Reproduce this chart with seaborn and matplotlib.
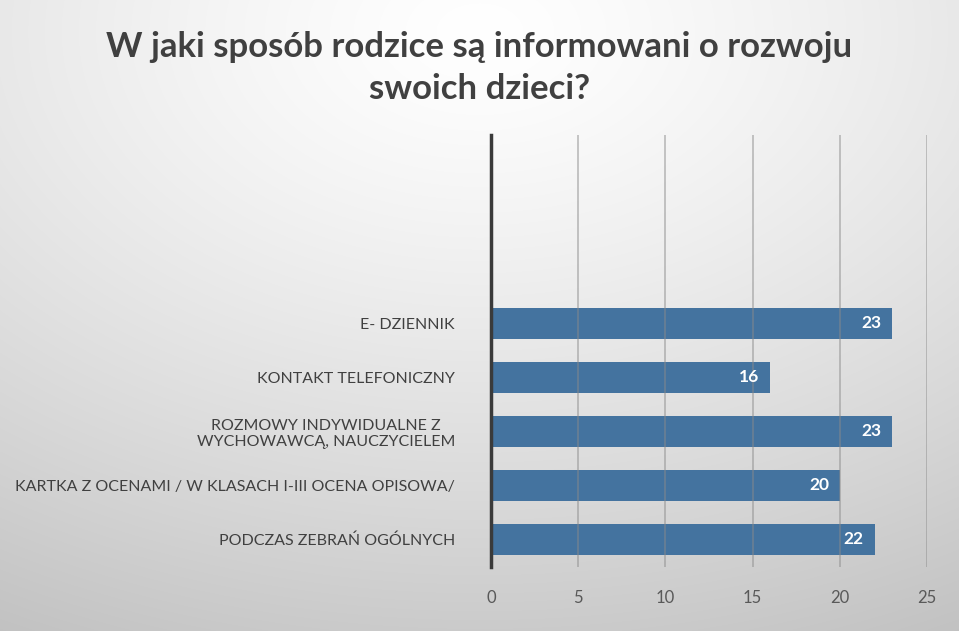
import numpy as np
import pandas as pd
import matplotlib
matplotlib.use("Agg")
import matplotlib.pyplot as plt
import seaborn as sns

title = "W jaki sposób rodzice są informowani o rozwoju\nswoich dzieci?"
categories = [
    "E- DZIENNIK",
    "KONTAKT TELEFONICZNY",
    "ROZMOWY INDYWIDUALNE Z\nWYCHOWAWCĄ, NAUCZYCIELEM",
    "KARTKA Z OCENAMI / W KLASACH I-III OCENA OPISOWA/",
    "PODCZAS ZEBRAŃ OGÓLNYCH",
]
values = [23, 16, 23, 20, 22]
empty_slots = ["", " ", "  "]
xticks = [0, 5, 10, 15, 20, 25]

sns.set_theme(style="white")
plt.rcParams["font.family"] = ["Lato", "DejaVu Sans"]

fig = plt.figure(figsize=(9.59, 6.31), dpi=100)

# radial gradient background
bg = fig.add_axes([0, 0, 1, 1], zorder=-10)
h, w = 631, 959
yy, xx = np.mgrid[0:h, 0:w]
cx, cy = w * 0.5, h * 0.05
r = np.sqrt(((xx - cx) / w) ** 2 + ((yy - cy) / h) ** 2)
r = r / r.max()
val = 1.0 - 0.24 * r ** 1.3
img = np.dstack([val, val, val])
bg.imshow(img, aspect="auto", extent=[0, 1, 0, 1])
bg.axis("off")

ax = fig.add_axes([491 / 959, 1 - 566.5 / 631, (927 - 491) / 959, (566.5 - 134.5) / 631])
ax.patch.set_alpha(0)

df = pd.DataFrame({"cat": categories, "val": values})
order = empty_slots + categories
sns.barplot(data=df, x="val", y="cat", order=order, color="#44739F",
            saturation=1, width=0.57, ax=ax, zorder=1, linewidth=0,
            edgecolor="none")

ax.set_xlim(0, 25)
ax.set_xticks(xticks)
ax.set_xticklabels([str(t) for t in xticks], fontsize=12, color="#595959")
ax.tick_params(axis="x", length=0, pad=17)
ax.tick_params(axis="y", length=0, pad=26, labelsize=11.5, labelcolor="#404040")
for lbl in ax.get_yticklabels():
    lbl.set_multialignment("center")
ax.set_xlabel("")
ax.set_ylabel("")

ax.grid(axis="x", color="#8a8a8a", linewidth=1.1, alpha=0.6, zorder=2)
ax.set_axisbelow(False)
for s in ["top", "right", "bottom"]:
    ax.spines[s].set_visible(False)
ax.spines["left"].set_color("#3a3a3a")
ax.spines["left"].set_linewidth(2.5)
ax.spines["left"].set_zorder(5)

for patch in ax.patches:
    wv = patch.get_width()
    if np.isnan(wv) or wv == 0:
        continue
    ax.text(wv - 0.62, patch.get_y() + patch.get_height() / 2, f"{int(round(wv))}",
            ha="right", va="center", color="white", fontsize=12.5,
            fontweight="bold", zorder=6)

fig.text(0.5, 1 - 68 / 631, title, ha="center", va="center", fontsize=25,
         fontweight="bold", color="#404040", linespacing=1.42)

fig.savefig("out.png", dpi=100)
